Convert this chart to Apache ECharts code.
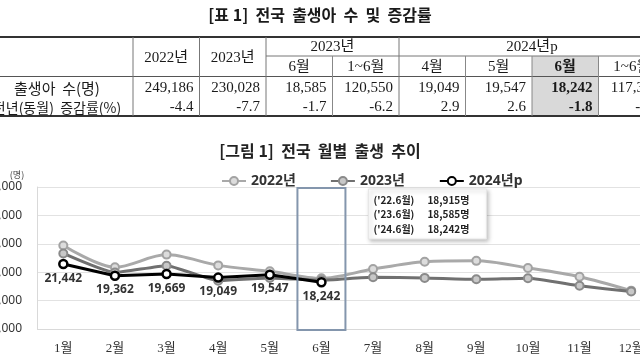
<!DOCTYPE html>
<html><head><meta charset="utf-8">
<script src="https://cdn.jsdelivr.net/npm/echarts@6/dist/echarts.min.js"></script>
<style>html,body{margin:0;padding:0;background:#fff}#c{width:640px;height:360px}</style>
</head><body><div id="c"></div>
<script>
// ---- table data ----
const tableTitle = '[표 1]  전국  출생아  수  및  증감률';
const rowLabels = ['출생아  수(명)', '전년(동월)  증감률(%)'];
const yearHeads = ['2022년', '2023년'];
const groupHeads = ['2023년', '2024년p'];
const subHeads = ['6월', '1~6월', '4월', '5월', '6월', '1~6월'];
const birthRow = [249186, 230028, 18585, 120550, 19049, 19547, 18242, 117317];
const rateRow = [-4.4, -7.7, -1.7, -6.2, 2.9, 2.6, -1.8, -2.7];

// ---- chart data ----
const chartTitle = '[그림 1]  전국  월별  출생  추이';
const months = ['1월','2월','3월','4월','5월','6월','7월','8월','9월','10월','11월','12월'];
const seriesNames = ['2022년', '2023년', '2024년p'];
const births2022 = [24700, 20850, 23100, 21200, 20150, 18915, 20550, 21850, 22000, 20750, 19200, 16750];
const births2023 = [23300, 19950, 21150, 18500, 19000, 18585, 19100, 19000, 18750, 18950, 17600, 16600];
const births2024 = [21442, 19362, 19669, 19049, 19547, 18242];
const yMin = 10000, yMax = 35000, yStep = 5000;
const juneTags = ["('22.6월)", "('23.6월)", "('24.6월)"];
const unitLabel = '(명)';

const fmt = v => v.toLocaleString('en-US');
const SERIF = "'Liberation Serif','Noto Sans CJK KR',serif";
const CJK = "'Noto Sans CJK KR','Noto Sans',sans-serif";

const chart = echarts.init(document.getElementById('c'), null, {renderer: 'canvas'});

const option = {
  animation: false,
  backgroundColor: '#fff',
  title: {
    text: chartTitle, left: 'center', top: 138,
    textStyle: {fontSize: 16, fontWeight: 'bold', color: '#222', fontFamily: CJK}
  },
  legend: {
    data: seriesNames, left: 216, top: 169, itemWidth: 24, itemHeight: 10, itemGap: 34,
    textStyle: {fontSize: 14, fontWeight: 'bold', color: '#333', fontFamily: "'Noto Sans','Noto Sans CJK KR',sans-serif"}
  },
  grid: {left: 37.5, top: 187, width: 619.5, height: 142, containLabel: false, outerBoundsMode: 'none'},
  xAxis: {
    type: 'category', data: months, boundaryGap: true,
    axisLine: {lineStyle: {color: '#d9d9d9'}},
    axisTick: {alignWithLabel: true, lineStyle: {color: '#d9d9d9'}},
    axisLabel: {margin: 13, fontSize: 13, color: '#333', fontFamily: SERIF}
  },
  yAxis: {
    type: 'value', min: yMin, max: yMax, interval: yStep,
    axisLine: {show: true, lineStyle: {color: '#d9d9d9'}},
    axisTick: {show: false},
    splitLine: {lineStyle: {color: '#e2e2e2'}},
    axisLabel: {margin: 15.5, fontSize: 12, color: '#333', fontFamily: "'Noto Sans',sans-serif", formatter: v => fmt(v)}
  },
  series: [
    {
      name: seriesNames[0], type: 'line', data: births2022, smooth: 0.3,
      symbol: 'circle', symbolSize: 8, z: 2,
      lineStyle: {color: '#a9a9a9', width: 3},
      itemStyle: {color: '#dcdcdc', borderColor: '#a3a3a3', borderWidth: 2}
    },
    {
      name: seriesNames[1], type: 'line', data: births2023, smooth: 0.15,
      symbol: 'circle', symbolSize: 8, z: 3,
      lineStyle: {color: '#707070', width: 3},
      itemStyle: {color: '#c8c8c8', borderColor: '#8a8a8a', borderWidth: 2}
    },
    {
      name: seriesNames[2], type: 'line', data: births2024,
      symbol: 'circle', symbolSize: 8, z: 4,
      lineStyle: {color: '#000', width: 3},
      itemStyle: {color: '#fff', borderColor: '#000', borderWidth: 2.5},
      label: {
        show: true, position: 'bottom', distance: 3,
        fontSize: 12, fontWeight: 'bold', color: '#333', fontFamily: "'Noto Sans',sans-serif",
        formatter: p => fmt(p.value)
      }
    }
  ]
};
chart.setOption(option);

// ---- table & decorations as graphic ----
const g = [];
const colX = i => 133 + i * 66.5;
const txt = (text, x, y, o, z) => g.push({
  type: 'text', x, y, z: z || 10,
  style: Object.assign({text, fill: '#1a1a1a', font: '15px ' + SERIF, align: 'center', verticalAlign: 'middle'}, o || {})
});
const ln = (x1, y1, x2, y2, w, c) => g.push({
  type: 'line', z: 9, shape: {x1, y1, x2, y2}, style: {stroke: c, lineWidth: w}
});

// highlight cell background
g.push({type: 'rect', z: 8, shape: {x: colX(6), y: 56, width: 66.5, height: 60}, style: {fill: '#d9d9d9'}});

txt(tableTitle, 320, 15, {font: 'bold 16px ' + CJK});
ln(0, 37, 640, 37, 2, '#333');
ln(0, 116, 640, 116, 2, '#333');
ln(0, 76.5, 640, 76.5, 1, '#555');
ln(colX(2), 56, 640, 56, 1, '#777');
[0, 1, 2, 4].forEach(i => ln(colX(i), 37, colX(i), 116, 1, '#777'));
[3, 5, 6, 7].forEach(i => ln(colX(i), 56, colX(i), 116, 1, '#888'));

yearHeads.forEach((t, i) => txt(t, colX(i) + 33.25, 58));
txt(groupHeads[0], (colX(2) + colX(4)) / 2, 47);
txt(groupHeads[1], (colX(4) + colX(8)) / 2, 47);
subHeads.forEach((t, j) => txt(t, colX(j + 2) + 33.25, 67, j === 4 ? {font: 'bold 15px ' + SERIF} : {}));
birthRow.forEach((v, i) => txt(fmt(v), colX(i + 1) - 6, 88.5,
  {align: 'right', font: (i === 6 ? 'bold ' : '') + '15px ' + SERIF}));
rateRow.forEach((v, i) => txt(v.toFixed(1), colX(i + 1) - 6, 107.5,
  {align: 'right', font: (i === 6 ? 'bold ' : '') + '15px ' + SERIF}));
txt(rowLabels[0], 57, 88.5, {font: '15px ' + CJK});
txt(rowLabels[1], 57, 107.5, {font: '14px ' + CJK});

// unit label
txt(unitLabel, 17, 175, {font: '9px ' + CJK, fill: '#444'});

// June highlight box from axis scales
const cx = chart.convertToPixel({xAxisIndex: 0}, months[5]);
const yTop = chart.convertToPixel({yAxisIndex: 0}, yMax);
const yBot = chart.convertToPixel({yAxisIndex: 0}, yMin);
g.push({type: 'rect', z: 11, shape: {x: cx - 24, y: yTop + 1, width: 48, height: yBot - yTop},
  style: {fill: 'none', stroke: '#8496ad', lineWidth: 2}});

// annotation box
const ax = cx + 47, ay = yTop + 2;
g.push({type: 'rect', z: 11, shape: {x: ax, y: ay, width: 118, height: 50},
  style: {fill: '#fff', stroke: '#e6e6e6', lineWidth: 1, shadowBlur: 4, shadowColor: 'rgba(0,0,0,0.25)', shadowOffsetX: 2, shadowOffsetY: 2}});
const juneVals = [births2022[5], births2023[5], births2024[5]];
juneTags.forEach((t, i) => {
  txt(t, ax + 5, ay + 11 + i * 14.7, {align: 'left', font: 'bold 10px ' + CJK, fill: '#222'}, 12);
  txt(fmt(juneVals[i]) + '명', ax + 59, ay + 11 + i * 14.7, {align: 'left', font: 'bold 10px ' + CJK, fill: '#222'}, 12);
});

chart.setOption({graphic: {elements: g}});
</script>
</body></html>
